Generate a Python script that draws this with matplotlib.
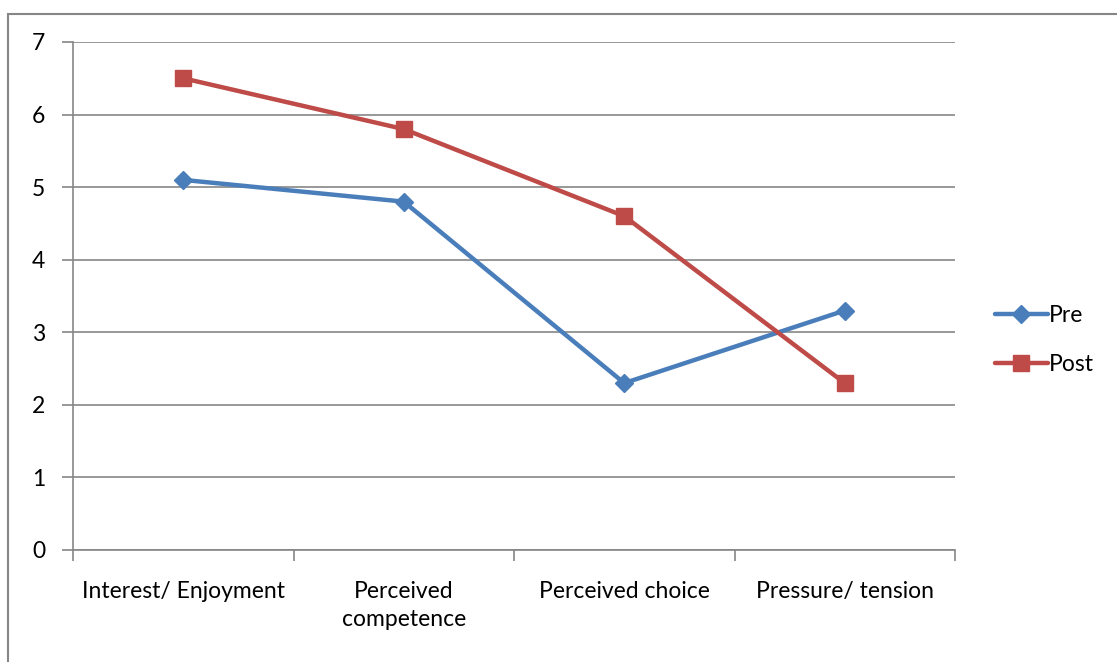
import matplotlib.pyplot as plt
from matplotlib.patches import Rectangle

categories = ['Interest/ Enjoyment', 'Perceived\ncompetence', 'Perceived choice', 'Pressure/ tension']
pre = [5.1, 4.8, 2.3, 3.3]
post = [6.5, 5.8, 4.6, 2.3]

plt.rcParams['font.family'] = ['Lato', 'DejaVu Sans']
grid_col = '#868686'

fig = plt.figure(figsize=(11.17, 6.62), dpi=100)
ax = fig.add_axes([73 / 1117, 1 - 550 / 662, (955 - 73) / 1117, (550 - 42) / 662])

# outer chart border (cut off at the right and bottom edges)
fig.patches.append(Rectangle((8 / 1117, -0.1), 1.2, 1 - 14 / 662 + 0.1,
                             transform=fig.transFigure, fill=False,
                             edgecolor=grid_col, linewidth=1.5, clip_on=False))

x = range(len(categories))
ax.plot(x, pre, color='#4a7ebb', linewidth=3.2, marker='D', markersize=9,
        label='Pre', solid_capstyle='round')
ax.plot(x, post, color='#be4b48', linewidth=3.2, marker='s', markersize=11,
        label='Post', solid_capstyle='round')

ax.set_xlim(-0.5, len(categories) - 0.5)
ax.set_ylim(0, 7)
ax.set_yticks(range(8))
ax.yaxis.grid(True, color=grid_col, linewidth=1.2)
ax.set_axisbelow(True)

ax.set_xticks(x)
ax.set_xticklabels(categories, fontsize=16.5, linespacing=1.45)
ax.set_xticks([i - 0.5 for i in range(len(categories) + 1)], minor=True)
ax.tick_params(axis='x', which='major', length=0, pad=22)
ax.tick_params(axis='x', which='minor', length=8, color=grid_col, width=1.2)
ax.tick_params(axis='y', length=8, color=grid_col, width=1.2, labelsize=16.5, pad=12)

for side in ['top', 'right']:
    ax.spines[side].set_visible(False)
for side in ['left', 'bottom']:
    ax.spines[side].set_color(grid_col)
    ax.spines[side].set_linewidth(1.2)

ax.legend(loc='center left', bbox_to_anchor=(1.022, 0.413), frameon=False,
          fontsize=16.5, handlelength=2.3, handletextpad=0.05, labelspacing=1.2)

plt.savefig('out.png', dpi=100)
